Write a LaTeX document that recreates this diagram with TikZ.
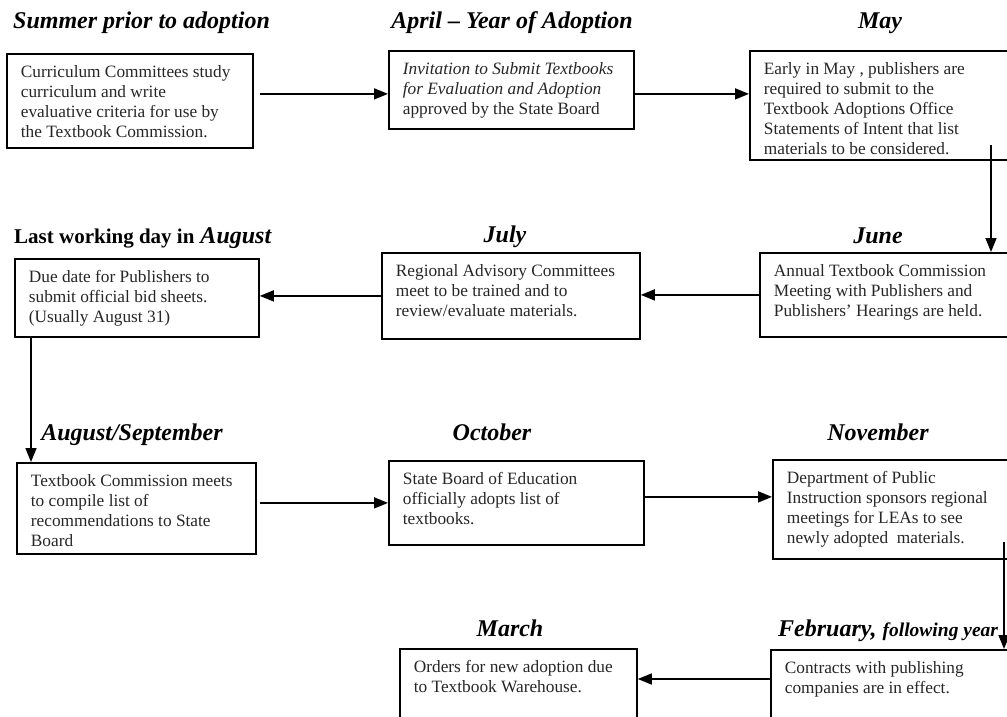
\documentclass[tikz,border=0pt]{standalone}
\usepackage{fontspec}
\setmainfont{Liberation Serif}
\usepackage{tikz}
\usetikzlibrary{arrows.meta}

\newcommand{\bodyfont}{\fontsize{17.3}{20}\selectfont}
\newcommand{\monthfont}{\fontsize{24}{28}\selectfont\bfseries\itshape}
\newcommand{\stagetext}[3]{\parbox[c][#2][t]{#1}{\raggedright\strut #3}}

\begin{document}
\begin{tikzpicture}[
    x=1pt, y=-1pt,
    stage/.style={draw, line width=1.8pt, anchor=north west, inner xsep=14pt, inner ysep=10pt, font=\bodyfont, text=black!85},
    month/.style={anchor=base, inner sep=0pt, font=\monthfont},
    flow/.style={-{Triangle[length=14pt, width=11pt]}, line width=1.6pt}
]

\useasboundingbox (0,0) rectangle (1007,717);
\clip (0,0) rectangle (1007,717);

% row 1
\node[month, anchor=base west] (tsummer) at (13,29) {Summer prior to adoption};
\node[month] (tapril) at (512,29) {April -- Year of Adoption};
\node[month] (tmay) at (880,29) {May};

\node[stage] (summer) at (6,53) {\stagetext{218pt}{74pt}{Curriculum Committees study\\ curriculum and write\\ evaluative criteria for use by\\ the Textbook Commission.}};
\node[stage] (april) at (388,50) {\stagetext{217pt}{58pt}{\textit{Invitation to Submit Textbooks}\\ \textit{for Evaluation and Adoption}\\ approved by the State Board}};
\node[stage] (may) at (749,50) {\stagetext{320pt}{89pt}{Early in May , publishers are\\ required to submit to the\\ Textbook Adoptions Office\\ Statements of Intent that list\\ materials to be considered.}};

% row 2
\node[month, anchor=base west] (taugust) at (14,243) {{\fontsize{21}{24}\selectfont\upshape Last working day in} August};
\node[month] (tjuly) at (505,242) {July};
\node[month] (tjune) at (878,243) {June};

\node[stage] (august) at (14,258) {\stagetext{216pt}{58pt}{Due date for Publishers to\\ submit official bid sheets.\\ (Usually August 31)}};
\node[stage] (july) at (381,252) {\stagetext{230pt}{66pt}{Regional Advisory Committees\\ meet to be trained and to\\ review/evaluate materials.}};
\node[stage] (june) at (759,252) {\stagetext{320pt}{64pt}{Annual Textbook Commission\\ Meeting with Publishers and\\ Publishers' Hearings are held.}};

% row 3
\node[month] (taugsep) at (132,440) {August/September};
\node[month] (toctober) at (492,440) {October};
\node[month] (tnovember) at (878,440) {November};

\node[stage] (augsep) at (16,462) {\stagetext{211pt}{71pt}{Textbook Commission meets\\ to compile list of\\ recommendations to State\\ Board}};
\node[stage] (october) at (388,460) {\stagetext{227pt}{64pt}{State Board of Education\\ officially adopts list of\\ textbooks.}};
\node[stage] (november) at (772,459) {\stagetext{320pt}{79pt}{Department of Public\\ Instruction sponsors regional\\ meetings for LEAs to see\\ newly adopted\ \ materials.}};

% row 4
\node[month] (tmarch) at (510,636) {March};
\node[month, anchor=base west] (tfebruary) at (778,636) {February, {\fontsize{19.5}{22}\selectfont following year}};

\node[stage] (march) at (399,648) {\stagetext{209pt}{80pt}{Orders for new adoption due\\ to Textbook Warehouse.}};
\node[stage] (february) at (770,649) {\stagetext{320pt}{80pt}{Contracts with publishing\\ companies are in effect.}};

\coordinate (dropmay) at (991,145);
\coordinate (dropnov) at (1004,542);

% connectors
\draw[flow] ([xshift=6pt, yshift=-4pt]summer.east |- april.west) -- ([yshift=-4pt]april.west);
\draw[flow] ([yshift=-4pt]april.east) -- ([yshift=-4pt]april.east -| may.west);
\draw[flow] (dropmay) -- (dropmay |- june.north);
\draw[flow] (june.west) -- (june.west -| july.east);
\draw[flow] (july.west) -- (july.west -| august.east);
\draw[flow] ([xshift=17pt]august.south west) -- ([xshift=17pt]august.south west |- augsep.north);
\draw[flow] ([xshift=3pt]augsep.east |- october.west) -- (october.west);
\draw[flow] ([yshift=6pt]october.east) -- ([yshift=6pt]october.east -| november.west);
\draw[flow] (dropnov) -- (dropnov |- february.north);
\draw[flow] ([yshift=-30pt]february.north west) -- ([yshift=-30pt]february.north west -| march.east);

\end{tikzpicture}
\end{document}
